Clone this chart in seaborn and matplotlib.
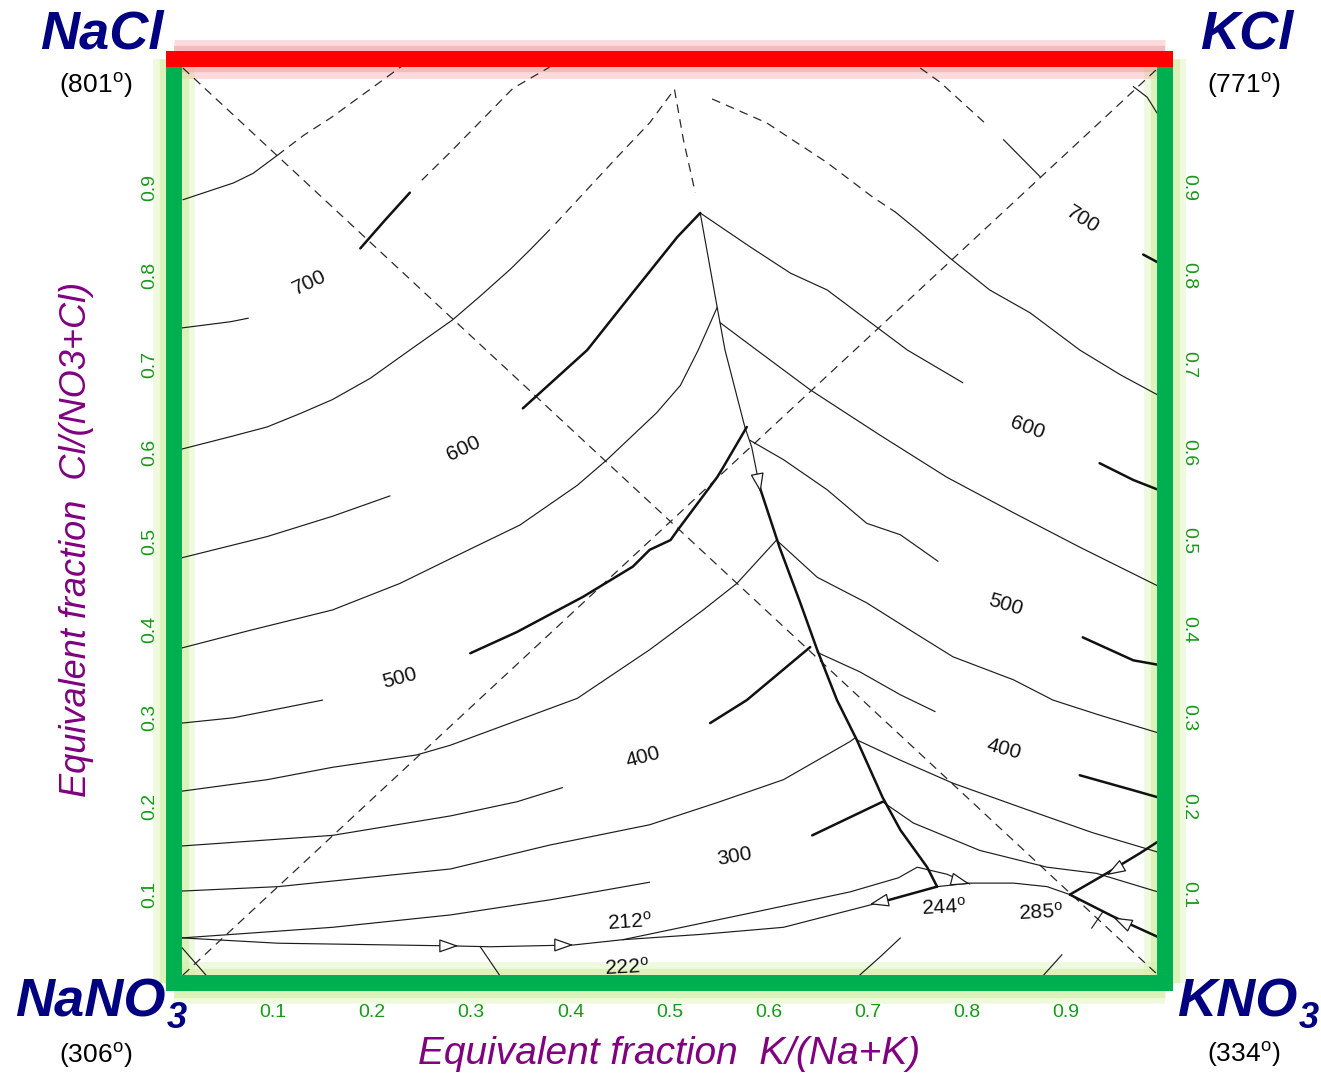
import matplotlib
matplotlib.use("Agg")
import matplotlib.pyplot as plt
import seaborn as sns
import numpy as np

# ---------------------------------------------------------------- data
# axis: x = K/(Na+K), y = Cl/(NO3+Cl) (equivalent fractions)
tick_values = [0.1, 0.2, 0.3, 0.4, 0.5, 0.6, 0.7, 0.8, 0.9]
tick_labels = ["0.1", "0.2", "0.3", "0.4", "0.5", "0.6", "0.7", "0.8", "0.9"]
Y_TOP = 1.0452

# dashed diagonals (stable / metastable reciprocal sections)
diag1_x = [0.009, 0.993]
diag1_y = [1.035, 0.009]
diag2_x = [0.009, 0.993]
diag2_y = [0.009, 1.035]

# NaCl-side isotherms (thin)
nacl_a_x = [0.009, 0.060, 0.080, 0.104]
nacl_a_y = [0.886, 0.905, 0.916, 0.936]
nacl_b_x = [0.008, 0.057, 0.075]
nacl_b_y = [0.741, 0.748, 0.752]
nacl_c_x = [0.008, 0.057, 0.094, 0.127, 0.160, 0.198, 0.238, 0.281, 0.309, 0.339, 0.359, 0.379]
nacl_c_y = [0.604, 0.618, 0.629, 0.644, 0.660, 0.684, 0.716, 0.750, 0.777, 0.807, 0.829, 0.852]
nacl_d_x = [0.008, 0.094, 0.160, 0.218]
nacl_d_y = [0.481, 0.505, 0.528, 0.551]
nacl_e_x = [0.008, 0.077, 0.160, 0.228, 0.279, 0.349, 0.407, 0.437, 0.487, 0.511, 0.529, 0.548]
nacl_e_y = [0.379, 0.399, 0.422, 0.452, 0.480, 0.518, 0.563, 0.592, 0.645, 0.676, 0.716, 0.764]
nacl_f_x = [0.008, 0.060, 0.150]
nacl_f_y = [0.294, 0.300, 0.320]
nacl_g_x = [0.008, 0.094, 0.160, 0.245, 0.279, 0.407, 0.480, 0.534, 0.568, 0.608]
nacl_g_y = [0.217, 0.230, 0.244, 0.258, 0.269, 0.322, 0.377, 0.422, 0.452, 0.501]
nacl_h_x = [0.008, 0.160, 0.279, 0.346, 0.392]
nacl_h_y = [0.155, 0.167, 0.189, 0.205, 0.221]
nacl_i_x = [0.008, 0.105, 0.279, 0.379, 0.480, 0.548, 0.615, 0.682, 0.687]
nacl_i_y = [0.104, 0.109, 0.129, 0.156, 0.179, 0.204, 0.230, 0.273, 0.277]
nacl_j_x = [0.008, 0.160, 0.279, 0.379, 0.480]
nacl_j_y = [0.051, 0.063, 0.077, 0.094, 0.114]

# metastable (dashed) continuations
meta_a_x = [0.104, 0.131, 0.160, 0.231]
meta_a_y = [0.936, 0.959, 0.980, 1.038]
meta_b_x = [0.250, 0.279, 0.342, 0.379]
meta_b_y = [0.908, 0.940, 1.012, 1.036]
meta_apex_x = [0.385, 0.447, 0.480, 0.505, 0.514, 0.526]
meta_apex_y = [0.859, 0.934, 0.973, 1.011, 0.954, 0.894]
meta_k_x = [0.543, 0.598, 0.659, 0.705, 0.728]
meta_k_y = [1.000, 0.973, 0.928, 0.889, 0.872]
meta_k2_x = [0.753, 0.773, 0.820]
meta_k2_y = [1.035, 1.019, 0.971]

# univariant boundaries (bold)
bold_a_x = [0.188, 0.213, 0.238]
bold_a_y = [0.831, 0.863, 0.894]
bold_b_x = [0.352, 0.417, 0.463, 0.508, 0.531]
bold_b_y = [0.650, 0.716, 0.781, 0.844, 0.871]
bold_c_x = [0.299, 0.346, 0.413, 0.463, 0.480, 0.501, 0.508, 0.548, 0.554, 0.578]
bold_c_y = [0.373, 0.397, 0.437, 0.471, 0.490, 0.501, 0.512, 0.572, 0.583, 0.629]
bound_thin_x = [0.531, 0.548, 0.556, 0.576, 0.583, 0.591]
bound_thin_y = [0.871, 0.765, 0.716, 0.629, 0.606, 0.561]
bound_bold_x = [0.591, 0.611, 0.632, 0.649, 0.669, 0.689, 0.715, 0.733, 0.760, 0.770]
bound_bold_y = [0.561, 0.493, 0.430, 0.377, 0.320, 0.275, 0.210, 0.173, 0.131, 0.109]
bold_d_x = [0.541, 0.578, 0.642]
bold_d_y = [0.294, 0.320, 0.380]
bold_e_x = [0.644, 0.715]
bold_e_y = [0.167, 0.205]
bold_244_x = [0.712, 0.770]
bold_244_y = [0.091, 0.109]
bold_285_up_x = [0.904, 0.941, 0.975, 0.993]
bold_285_up_y = [0.100, 0.124, 0.147, 0.160]
bold_285_dn_x = [0.904, 0.948, 0.993]
bold_285_dn_y = [0.100, 0.075, 0.052]
bold_r1_x = [0.978, 0.993]
bold_r1_y = [0.824, 0.815]
bold_r2_x = [0.934, 0.968, 0.993]
bold_r2_y = [0.588, 0.569, 0.558]
bold_r3_x = [0.917, 0.968, 0.993]
bold_r3_y = [0.391, 0.365, 0.360]
bold_r4_x = [0.914, 0.968, 0.993]
bold_r4_y = [0.235, 0.218, 0.210]

# eutectic valley (thin)
valley_x = [0.008, 0.105, 0.279, 0.319, 0.403, 0.453]
valley_y = [0.051, 0.045, 0.042, 0.041, 0.043, 0.049]
valley_low_x = [0.453, 0.532, 0.615, 0.712]
valley_low_y = [0.049, 0.055, 0.063, 0.091]
valley_up_x = [0.453, 0.581, 0.682, 0.731, 0.750, 0.780, 0.803]
valley_up_y = [0.049, 0.079, 0.103, 0.119, 0.131, 0.123, 0.112]
c244_285_x = [0.770, 0.803, 0.847, 0.881, 0.904]
c244_285_y = [0.109, 0.113, 0.113, 0.109, 0.100]
tick285_x = [0.926, 0.937]
tick285_y = [0.062, 0.080]

# KCl / KNO3-side isotherms (thin)
kcl_a_x = [0.728, 0.753, 0.783, 0.823, 0.864, 0.914, 0.955, 0.993]
kcl_a_y = [0.872, 0.849, 0.820, 0.784, 0.758, 0.716, 0.688, 0.665]
kcl_b_x = [0.837, 0.874]
kcl_b_y = [0.954, 0.912]
kcl_c_x = [0.968, 0.982, 0.992]
kcl_c_y = [1.014, 1.002, 0.984]
kcl_d_x = [0.531, 0.581, 0.622, 0.659, 0.709, 0.740, 0.796]
kcl_d_y = [0.871, 0.833, 0.803, 0.784, 0.742, 0.716, 0.679]
kcl_e_x = [0.551, 0.588, 0.642, 0.712, 0.780, 0.847, 0.914, 0.993]
kcl_e_y = [0.747, 0.716, 0.671, 0.620, 0.572, 0.532, 0.493, 0.449]
kcl_f_x = [0.581, 0.615, 0.659, 0.699, 0.733, 0.771]
kcl_f_y = [0.614, 0.592, 0.558, 0.520, 0.507, 0.477]
kcl_g_x = [0.608, 0.649, 0.699, 0.743, 0.786, 0.847, 0.887, 0.934, 0.993]
kcl_g_y = [0.501, 0.459, 0.430, 0.399, 0.369, 0.343, 0.320, 0.303, 0.283]
kcl_h_x = [0.649, 0.692, 0.733, 0.768]
kcl_h_y = [0.374, 0.352, 0.326, 0.307]
kcl_i_x = [0.689, 0.733, 0.786, 0.861, 0.927, 0.993]
kcl_i_y = [0.275, 0.252, 0.226, 0.196, 0.170, 0.148]
kcl_j_x = [0.715, 0.746, 0.813, 0.881, 0.931, 0.993]
kcl_j_y = [0.205, 0.181, 0.150, 0.131, 0.124, 0.103]

# short stubs near the NaNO3-KNO3 edge
stub_a_x = [0.876, 0.896]
stub_a_y = [0.007, 0.032]
stub_b_x = [0.690, 0.712, 0.733]
stub_b_y = [0.007, 0.029, 0.051]
stub_c_x = [0.008, 0.033]
stub_c_y = [0.040, 0.008]
stub_d_x = [0.309, 0.329]
stub_d_y = [0.041, 0.008]

# crystallisation-path arrows: tip position and direction
arrow_x = [0.287, 0.403, 0.592, 0.702, 0.803, 0.941, 0.948]
arrow_y = [0.042, 0.043, 0.555, 0.089, 0.112, 0.122, 0.074]
arrow_dx = [1.0, 1.0, 0.17, -1.0, 1.0, -1.0, -1.0]
arrow_dy = [0.0, 0.0, -1.0, -0.26, -0.3, -0.66, 0.54]

# isotherm / invariant-point labels
iso_text = ["700", "600", "500", "400", "300",
            "212$^{\\mathrm{o}}$", "222$^{\\mathrm{o}}$", "244$^{\\mathrm{o}}$", "285$^{\\mathrm{o}}$",
            "700", "600", "500", "400"]
iso_x = [0.137, 0.292, 0.228, 0.473, 0.566, 0.460, 0.457, 0.777, 0.875, 0.917, 0.861, 0.839, 0.837]
iso_y = [0.792, 0.605, 0.345, 0.256, 0.143, 0.069, 0.017, 0.085, 0.080, 0.863, 0.628, 0.428, 0.264]
iso_rot = [25, 25, 15, 15, 10, 4, 3, 3, 3, -32, -20, -17, -15]

# corner salts and melting points
salt_name = ["NaCl", "KCl", "NaNO", "KNO"]
salt_sub = ["", "", "3", "3"]
salt_x = [-0.011, 1.035, -0.009, 1.012]
salt_y = [1.057, 1.057, -0.038, -0.038]
salt_ha = ["right", "left", "right", "left"]
melt_text = ["(801$^{\\mathrm{o}}$)", "(771$^{\\mathrm{o}}$)", "(306$^{\\mathrm{o}}$)", "(334$^{\\mathrm{o}}$)"]
melt_x = [-0.079, 1.079, -0.079, 1.079]
melt_y = [1.007, 1.007, -0.0905, -0.089]

x_title = "Equivalent fraction  K/(Na+K)"
y_title = "Equivalent fraction  Cl/(NO3+Cl)"

# ---------------------------------------------------------------- style
sns.set_theme(style="white")
plt.rcParams["font.family"] = ["Liberation Sans", "DejaVu Sans"]
plt.rcParams["mathtext.fontset"] = "custom"
plt.rcParams["mathtext.rm"] = "Liberation Sans"
plt.rcParams["mathtext.it"] = "Liberation Sans:italic"
plt.rcParams["mathtext.bf"] = "Liberation Sans:bold"

INK = "#1c1c1c"
GREEN = "#00B050"
TICK_GREEN = "#159a15"
RED = "#FF0000"
NAVY = "#000080"
PURPLE = "#800080"

fig = plt.figure(figsize=(13.21, 10.74), dpi=100)
fig.patch.set_facecolor("white")
ax = fig.add_axes([174 / 1321, 91 / 1074, 991 / 1321, 924 / 1074])
ax.set_facecolor("white")


def draw(xs, ys, lw, dashed=False, color=INK):
    kw = dict(x=xs, y=ys, sort=False, estimator=None, color=color,
              linewidth=lw, ax=ax, legend=False, zorder=2)
    if dashed:
        kw["linestyle"] = (0, (7, 5))
    sns.lineplot(**kw)


dashed_curves = [(diag1_x, diag1_y), (diag2_x, diag2_y), (meta_a_x, meta_a_y),
                 (meta_b_x, meta_b_y), (meta_apex_x, meta_apex_y),
                 (meta_k_x, meta_k_y), (meta_k2_x, meta_k2_y)]
thin_curves = [(nacl_a_x, nacl_a_y), (nacl_b_x, nacl_b_y), (nacl_c_x, nacl_c_y),
               (nacl_d_x, nacl_d_y), (nacl_e_x, nacl_e_y), (nacl_f_x, nacl_f_y),
               (nacl_g_x, nacl_g_y), (nacl_h_x, nacl_h_y), (nacl_i_x, nacl_i_y),
               (nacl_j_x, nacl_j_y), (bound_thin_x, bound_thin_y),
               (valley_x, valley_y), (valley_low_x, valley_low_y),
               (valley_up_x, valley_up_y), (c244_285_x, c244_285_y),
               (tick285_x, tick285_y),
               (kcl_a_x, kcl_a_y), (kcl_b_x, kcl_b_y), (kcl_c_x, kcl_c_y),
               (kcl_d_x, kcl_d_y), (kcl_e_x, kcl_e_y), (kcl_f_x, kcl_f_y),
               (kcl_g_x, kcl_g_y), (kcl_h_x, kcl_h_y), (kcl_i_x, kcl_i_y),
               (kcl_j_x, kcl_j_y),
               (stub_a_x, stub_a_y), (stub_b_x, stub_b_y),
               (stub_c_x, stub_c_y), (stub_d_x, stub_d_y)]
bold_curves = [(bold_a_x, bold_a_y), (bold_b_x, bold_b_y), (bold_c_x, bold_c_y),
               (bound_bold_x, bound_bold_y), (bold_d_x, bold_d_y),
               (bold_e_x, bold_e_y), (bold_244_x, bold_244_y),
               (bold_285_up_x, bold_285_up_y), (bold_285_dn_x, bold_285_dn_y),
               (bold_r1_x, bold_r1_y), (bold_r2_x, bold_r2_y),
               (bold_r3_x, bold_r3_y), (bold_r4_x, bold_r4_y)]

for xs, ys in dashed_curves:
    draw(xs, ys, 0.9, dashed=True, color="#2a2a2a")
for xs, ys in thin_curves:
    draw(xs, ys, 0.85)
for xs, ys in bold_curves:
    draw(xs, ys, 1.8, color="#111111")

# arrows
for tx, ty, dx, dy in zip(arrow_x, arrow_y, arrow_dx, arrow_dy):
    n = np.hypot(dx, dy)
    ax.annotate("", xy=(tx, ty), xytext=(tx - 0.018 * dx / n, ty - 0.018 * dy / n),
                arrowprops=dict(arrowstyle="-|>,head_length=0.8,head_width=0.28",
                                fc="white", ec=INK, lw=0.9, shrinkA=0, shrinkB=0,
                                mutation_scale=15), zorder=3)

# isotherm labels
for t, x, y, r in zip(iso_text, iso_x, iso_y, iso_rot):
    ax.text(x, y, t, fontsize=15, color="#111111", ha="center", va="center",
            rotation=r, rotation_mode="anchor", zorder=3)

# ---------------------------------------------------------------- frame with glow
ax.set_xlim(0, 1)
ax.set_ylim(0, Y_TOP)
for xv in (0, 1):
    ax.axvline(xv, color="#cfeea0", lw=30, alpha=0.35, zorder=0.5, clip_on=False,
               solid_capstyle="butt")
    ax.axvline(xv, color="#cfeea0", lw=21, alpha=0.55, zorder=0.6, clip_on=False,
               solid_capstyle="butt")
ax.axhline(0, color="#cfeea0", lw=30, alpha=0.35, zorder=0.5, clip_on=False,
           solid_capstyle="butt")
ax.axhline(0, color="#cfeea0", lw=21, alpha=0.55, zorder=0.6, clip_on=False,
           solid_capstyle="butt")
ax.axhline(Y_TOP, color="#f59a9a", lw=28, alpha=0.35, zorder=0.5, clip_on=False,
           solid_capstyle="butt")
ax.axhline(Y_TOP, color="#f59a9a", lw=19, alpha=0.5, zorder=0.6, clip_on=False,
           solid_capstyle="butt")

for side in ("left", "right", "bottom"):
    sp = ax.spines[side]
    sp.set_visible(True)
    sp.set_color(GREEN)
    sp.set_linewidth(11.5)
    sp.set_capstyle("projecting")
    sp.set_zorder(4)
sp = ax.spines["top"]
sp.set_visible(True)
sp.set_color(RED)
sp.set_linewidth(11.5)
sp.set_capstyle("projecting")
sp.set_zorder(5)

# ticks
ax.set_xticks(tick_values)
ax.set_xticklabels(tick_labels)
ax.set_yticks(tick_values)
ax.set_yticklabels(tick_labels)
ax.tick_params(axis="both", length=0, labelsize=14, labelcolor=TICK_GREEN)
ax.tick_params(axis="x", pad=15)
ax.tick_params(axis="y", pad=11, labelleft=True, labelright=True)
for tk in ax.yaxis.get_major_ticks():
    tk.label1.set_rotation(90)
    tk.label1.set_va("center")
    tk.label2.set_rotation(270)
    tk.label2.set_va("center")
ax.set_xlabel("")
ax.set_ylabel("")
ax.grid(False)

# axis titles
ax.text(0.5, -0.0916, x_title, fontsize=28, style="italic", color=PURPLE,
        ha="center", va="baseline", clip_on=False)
ax.text(-0.098, 0.502, y_title, fontsize=26, style="italic", color=PURPLE,
        ha="center", va="center", rotation=90, clip_on=False)

# corner salts
for name, sub, x, y, ha in zip(salt_name, salt_sub, salt_x, salt_y, salt_ha):
    t = ax.text(x, y, name, fontsize=39, fontweight="bold", style="italic",
                color=NAVY, ha=ha, va="baseline", clip_on=False)
    if sub:
        ax.annotate(sub, xy=(1, 0), xycoords=t, xytext=(1, 0),
                    textcoords="offset points", fontsize=26, fontweight="bold",
                    style="italic", color=NAVY, ha="left", va="baseline")
for t, x, y in zip(melt_text, melt_x, melt_y):
    ax.text(x, y, t, fontsize=19, color="black", ha="center", va="baseline",
            clip_on=False)

fig.savefig("out.png", dpi=100, facecolor="white")
